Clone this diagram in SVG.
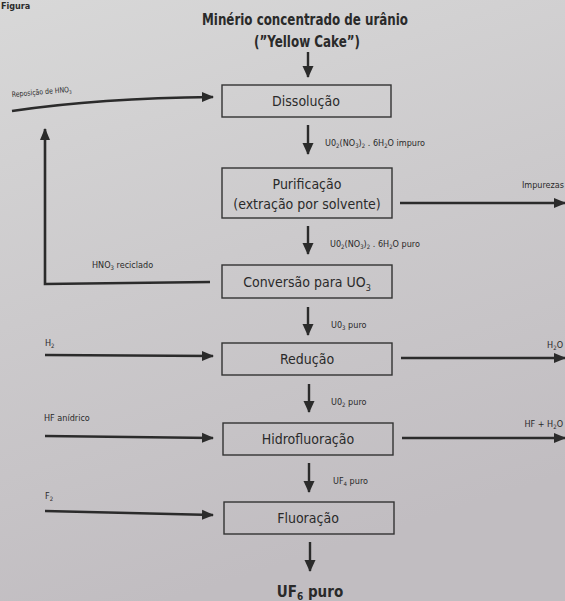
<svg xmlns="http://www.w3.org/2000/svg" width="565" height="601" viewBox="0 0 565 601">
<defs>
<linearGradient id="bg" x1="0" y1="0" x2="0.3" y2="1">
<stop offset="0" stop-color="#d8d8d8"/>
<stop offset="0.5" stop-color="#cccacc"/>
<stop offset="1" stop-color="#c1bdc1"/>
</linearGradient>
<marker id="ah" markerUnits="userSpaceOnUse" markerWidth="12" markerHeight="12" viewBox="0 0 12 12" refX="11" refY="6" orient="auto">
<path d="M0,1 L12,6 L0,11 Z" fill="#2b2b2b"/>
</marker>
<marker id="ahd" markerUnits="userSpaceOnUse" markerWidth="12" markerHeight="12" viewBox="0 0 12 12" refX="11" refY="6" orient="auto">
<path d="M0,0.5 L12,6 L0,11.5 Z" fill="#2b2b2b"/>
</marker>
</defs>
<style>
.t{font-family:"Liberation Sans Narrow","DejaVu Sans Condensed","Liberation Sans",sans-serif;fill:#2a2a2a}
.box{fill:none;stroke:#333;stroke-width:1.4}
.bl{font-size:14px;text-anchor:middle}
.sm{font-size:9px}
.ti{font-size:15px;font-weight:bold;text-anchor:middle}
.c{fill:none;stroke:#2b2b2b;stroke-width:2.6}
.cd{fill:none;stroke:#2b2b2b;stroke-width:2.4;marker-end:url(#ahd)}
.ch{fill:none;stroke:#2b2b2b;stroke-width:2.6;marker-end:url(#ah)}
</style>
<rect width="565" height="601" fill="url(#bg)"/>
<text class="t" x="1" y="9" font-size="9" font-weight="bold">Figura</text>

<g id="title">
<text class="t ti" x="305" y="25" textLength="206" lengthAdjust="spacingAndGlyphs">Minério concentrado de urânio</text>
<text class="t ti" x="307" y="47" textLength="106" lengthAdjust="spacingAndGlyphs">(”Yellow Cake”)</text>
</g>

<g id="connectors">
<line class="cd" x1="308" y1="52" x2="308" y2="77"/>
<path class="ch" d="M12,111 Q100,98 213,97"/>
<line class="cd" x1="308" y1="125" x2="308" y2="154"/>
<line class="ch" x1="400" y1="203" x2="565" y2="203"/>
<line class="cd" x1="308" y1="226" x2="308" y2="254"/>
<path class="ch" d="M210,282 L45,284 L45,129"/>
<line class="cd" x1="308" y1="307" x2="308" y2="335"/>
<line class="ch" x1="45" y1="355" x2="213" y2="356"/>
<line class="ch" x1="401" y1="358" x2="565" y2="358"/>
<line class="cd" x1="309" y1="384" x2="309" y2="412"/>
<line class="ch" x1="45" y1="436" x2="213" y2="438"/>
<line class="ch" x1="402" y1="438" x2="565" y2="438"/>
<line class="cd" x1="309" y1="463" x2="309" y2="492"/>
<line class="ch" x1="45" y1="511" x2="213" y2="515"/>
<line class="cd" x1="310" y1="542" x2="310" y2="571"/>

<text class="t" transform="translate(12,97) rotate(-5)" font-size="7.5" textLength="60" lengthAdjust="spacingAndGlyphs">Reposição de HNO<tspan font-size="5" dy="2">3</tspan></text>
<text class="t sm" x="325" y="146">U0<tspan font-size="6" dy="2">2</tspan><tspan dy="-2">(NO</tspan><tspan font-size="6" dy="2">3</tspan><tspan dy="-2">)</tspan><tspan font-size="6" dy="2">2</tspan><tspan dy="-2"> . 6H</tspan><tspan font-size="6" dy="2">2</tspan><tspan dy="-2">O impuro</tspan></text>
<text class="t sm" x="564" y="188" text-anchor="end">Impurezas</text>
<text class="t sm" x="330" y="247">U0<tspan font-size="6" dy="2">2</tspan><tspan dy="-2">(NO</tspan><tspan font-size="6" dy="2">3</tspan><tspan dy="-2">)</tspan><tspan font-size="6" dy="2">2</tspan><tspan dy="-2"> . 6H</tspan><tspan font-size="6" dy="2">2</tspan><tspan dy="-2">O puro</tspan></text>
<text class="t sm" x="92" y="268">HNO<tspan font-size="6" dy="2">3</tspan><tspan dy="-2"> reciclado</tspan></text>
<text class="t sm" x="331" y="328">U0<tspan font-size="6" dy="2">3</tspan><tspan dy="-2"> puro</tspan></text>
<text class="t sm" x="45" y="346">H<tspan font-size="6" dy="2">2</tspan></text>
<text class="t sm" x="563" y="348" text-anchor="end">H<tspan font-size="6" dy="2">2</tspan><tspan dy="-2">O</tspan></text>
<text class="t sm" x="331" y="405">U0<tspan font-size="6" dy="2">2</tspan><tspan dy="-2"> puro</tspan></text>
<text class="t sm" x="44" y="421">HF anídrico</text>
<text class="t sm" x="563" y="427" text-anchor="end">HF + H<tspan font-size="6" dy="2">2</tspan><tspan dy="-2">O</tspan></text>
<text class="t sm" x="333" y="484">UF<tspan font-size="6" dy="2">4</tspan><tspan dy="-2"> puro</tspan></text>
<text class="t sm" x="45" y="499">F<tspan font-size="6" dy="2">2</tspan></text>
</g>

<g id="dissolucao">
<rect class="box" x="222" y="85" width="169" height="32"/>
<text class="t bl" x="306" y="106">Dissolução</text>
</g>
<g id="purificacao">
<rect class="box" x="222" y="168" width="170" height="50"/>
<text class="t bl" x="307" y="189">Purificação</text>
<text class="t bl" x="307" y="209">(extração por solvente)</text>
</g>
<g id="conversao">
<rect class="box" x="222" y="265" width="170" height="33"/>
<text class="t bl" x="307" y="287">Conversão para UO<tspan font-size="9" dy="4">3</tspan></text>
</g>
<g id="reducao">
<rect class="box" x="222" y="343" width="170" height="32"/>
<text class="t bl" x="307" y="364">Redução</text>
</g>
<g id="hidrofluoracao">
<rect class="box" x="223" y="423" width="170" height="32"/>
<text class="t bl" x="308" y="444">Hidrofluoração</text>
</g>
<g id="fluoracao">
<rect class="box" x="224" y="502" width="170" height="32"/>
<text class="t bl" x="308" y="523">Fluoração</text>
</g>
<g id="produto">
<text class="t ti" x="310" y="597">UF<tspan font-size="10" dy="3">6</tspan><tspan dy="-3"> puro</tspan></text>
</g>
</svg>
